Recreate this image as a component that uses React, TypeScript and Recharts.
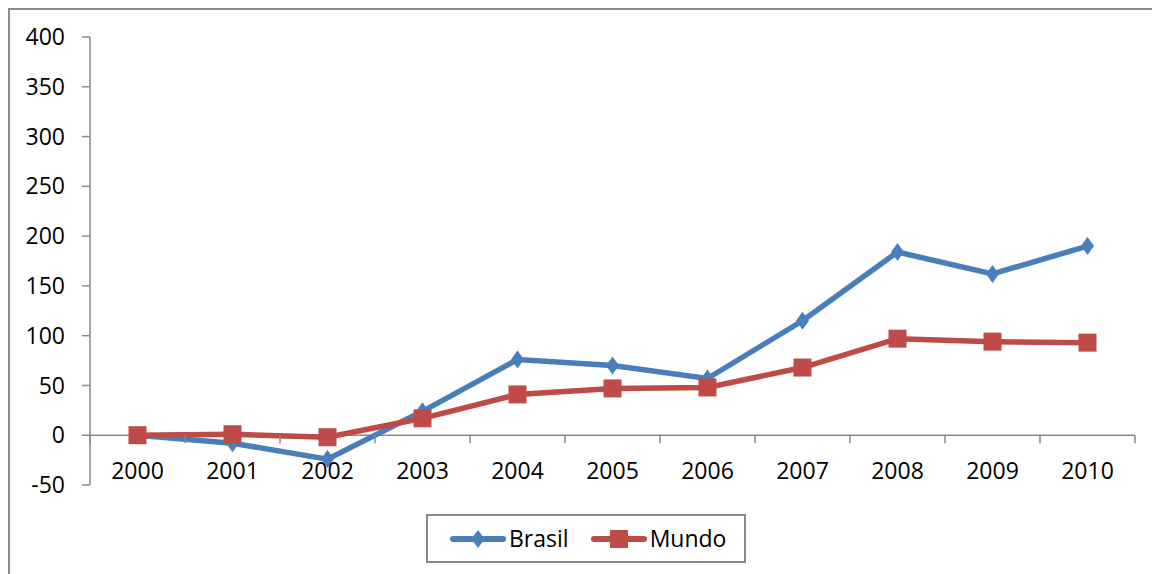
import { LineChart, Line, XAxis, YAxis, ReferenceLine, Legend } from 'recharts';

const years = ['2000', '2001', '2002', '2003', '2004', '2005', '2006', '2007', '2008', '2009', '2010'];
const brasil = [0, -8, -24, 24, 76, 70, 57, 115, 184, 162, 190];
const mundo = [0, 1, -2, 17, 41, 47, 48, 68, 97, 94, 93];
const yTicks = [-50, 0, 50, 100, 150, 200, 250, 300, 350, 400];

const data = years.map((year, i) => ({ year, Brasil: brasil[i], Mundo: mundo[i] }));

const BLUE = '#4A7EBB';
const RED = '#BE4B48';
const AXIS = '#898989';
const FRAME = '#8c8c8c';
const FONT = '"Open Sans", sans-serif';
const FONT_SIZE = 23;

const CHART_W = 1150;
const CHART_H = 566;
const Y_AXIS_W = 80;
const X_AXIS_H = 30;
const MARGIN = { top: 29, right: 25, bottom: 59, left: 0 };
const PLOT_W = CHART_W - Y_AXIS_W - MARGIN.right - MARGIN.left;
const PLOT_H = CHART_H - MARGIN.top - MARGIN.bottom - X_AXIS_H;
const Y_MIN = yTicks[0];
const Y_MAX = yTicks[yTicks.length - 1];
const BAND = PLOT_W / years.length;
// distance from the bottom of the plot (Y_MIN) up to the zero line
const ZERO_RISE = (PLOT_H * (0 - Y_MIN)) / (Y_MAX - Y_MIN);

function Diamond({ cx, cy, fill }: any) {
  if (cx == null || cy == null) return null;
  return <path d={`M${cx},${cy - 9} L${cx + 6.5},${cy} L${cx},${cy + 9} L${cx - 6.5},${cy} Z`} fill={fill} />;
}

function Square({ cx, cy, fill }: any) {
  if (cx == null || cy == null) return null;
  return <rect x={cx - 9} y={cy - 9} width={18} height={18} fill={fill} />;
}

function YearTick({ x, y, payload, index }: any) {
  const y0 = y - ZERO_RISE;
  return (
    <g>
      <line x1={x - BAND / 2} x2={x - BAND / 2} y1={y0} y2={y0 + 8} stroke={AXIS} strokeWidth={1.5} />
      {index === years.length - 1 && (
        <line x1={x + BAND / 2} x2={x + BAND / 2} y1={y0} y2={y0 + 8} stroke={AXIS} strokeWidth={1.5} />
      )}
      <text x={x} y={y - 15} textAnchor="middle" dominantBaseline="central" fill="#000" fontSize={FONT_SIZE} fontFamily={FONT}>
        {payload.value}
      </text>
    </g>
  );
}

function LegendIcon({ color, marker }: { color: string; marker: 'diamond' | 'square' }) {
  return (
    <svg width={56} height={20} style={{ display: 'block' }}>
      <line x1={3} x2={53} y1={10} y2={10} stroke={color} strokeWidth={6} strokeLinecap="round" />
      {marker === 'diamond' ? <Diamond cx={28} cy={10} fill={color} /> : <Square cx={28} cy={10} fill={color} />}
    </svg>
  );
}

function LegendBox() {
  const items = [
    { name: 'Brasil', color: BLUE, marker: 'diamond' as const },
    { name: 'Mundo', color: RED, marker: 'square' as const },
  ];
  return (
    <div
      style={{
        boxSizing: 'border-box',
        width: 320,
        height: 49,
        border: `2px solid ${AXIS}`,
        display: 'flex',
        alignItems: 'center',
        paddingLeft: 22,
        fontFamily: FONT,
        fontSize: FONT_SIZE,
        color: '#000',
      }}
    >
      {items.map((it, i) => (
        <div key={it.name} style={{ display: 'flex', alignItems: 'center', marginLeft: i === 0 ? 0 : 22 }}>
          <LegendIcon color={it.color} marker={it.marker} />
          <span style={{ marginLeft: 3, lineHeight: '23px' }}>{it.name}</span>
        </div>
      ))}
    </div>
  );
}

export default function App() {
  return (
    <div
      style={{
        position: 'relative',
        width: 1152,
        height: 566,
        boxSizing: 'border-box',
        borderTop: `2px solid ${FRAME}`,
        borderLeft: `2px solid ${FRAME}`,
      }}
    >
      <div style={{ position: 'absolute', left: 0, top: -2 }}>
        <LineChart width={CHART_W} height={CHART_H} data={data} margin={MARGIN}>
          <XAxis
            dataKey="year"
            scale="point"
            padding={{ left: BAND / 2, right: BAND / 2 }}
            height={X_AXIS_H}
            axisLine={false}
            tickLine={false}
            tickSize={0}
            tickMargin={0}
            interval={0}
            tick={<YearTick />}
          />
          <YAxis
            domain={[Y_MIN, Y_MAX]}
            ticks={yTicks}
            interval={0}
            width={Y_AXIS_W}
            axisLine={{ stroke: AXIS, strokeWidth: 1.5 }}
            tickLine={{ stroke: AXIS, strokeWidth: 1.5 }}
            tickSize={8}
            tickMargin={17}
            tick={{ fill: '#000', fontSize: FONT_SIZE, fontFamily: FONT }}
          />
          <ReferenceLine y={0} stroke={AXIS} strokeWidth={1.5} />
          <Legend
            verticalAlign="middle"
            align="center"
            layout="horizontal"
            content={<LegendBox />}
            wrapperStyle={{ position: 'absolute', top: 506, left: 416, width: 'auto' }}
          />
          <Line
            dataKey="Brasil"
            stroke={BLUE}
            strokeWidth={5.5}
            dot={<Diamond fill={BLUE} />}
            activeDot={false}
            isAnimationActive={false}
          />
          <Line
            dataKey="Mundo"
            stroke={RED}
            strokeWidth={5.5}
            dot={<Square fill={RED} />}
            activeDot={false}
            isAnimationActive={false}
          />
        </LineChart>
      </div>
    </div>
  );
}
